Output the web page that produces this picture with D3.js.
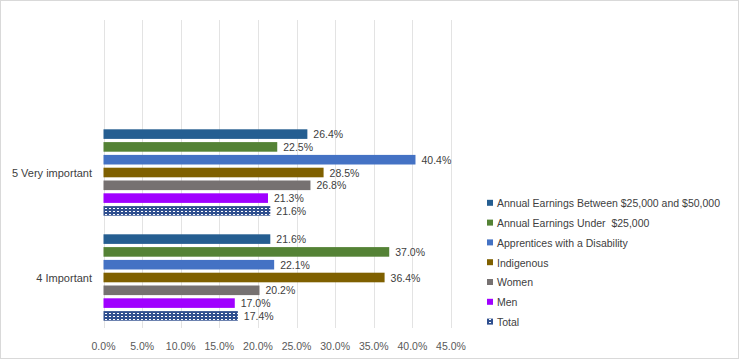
<!DOCTYPE html>
<html>
<head>
<meta charset="utf-8">
<script src="https://cdn.jsdelivr.net/npm/d3@7"></script>
<style>
  body { margin: 0; background: #fff; }
  svg text { font-family: "Liberation Sans", Arial, sans-serif; }
</style>
</head>
<body>
<div id="chart"></div>
<script>
// categories (top slot is an empty category in the source chart)
var categories = ["", "5 Very important", "4 Important"];
var seriesNames = [
    "Annual Earnings Between $25,000 and $50,000",
    "Annual Earnings Under  $25,000",
    "Apprentices with a Disability",
    "Indigenous",
    "Women",
    "Men",
    "Total"
];
// values per category, same order as seriesNames
var veryImportant = [26.4, 22.5, 40.4, 28.5, 26.8, 21.3, 21.6];
var important = [21.6, 37.0, 22.1, 36.4, 20.2, 17.0, 17.4];
var tickValues = [0, 5, 10, 15, 20, 25, 30, 35, 40, 45];

var colors = ["#255e91", "#548235", "#4472c4", "#7f6000", "#767171", "#a000ff", "url(#totalPattern)"];

var W = 739, H = 364;
var svg = d3.select("#chart").append("svg")
    .attr("width", W)
    .attr("height", H);

// pattern for Total
var defs = svg.append("defs");
var pat = defs.append("pattern")
    .attr("id", "totalPattern")
    .attr("patternUnits", "userSpaceOnUse")
    .attr("width", 4)
    .attr("height", 3);
pat.append("rect").attr("width", 4).attr("height", 3).attr("fill", "#2f4f8f");
pat.append("rect").attr("x", 1).attr("y", 1).attr("width", 2).attr("height", 1).attr("fill", "#ffffff");

// outer border
svg.append("rect")
    .attr("x", 0.5).attr("y", 0.5)
    .attr("width", W - 1).attr("height", 358)
    .attr("fill", "#fff")
    .attr("stroke", "#d9d9d9");

var x = d3.scaleLinear().domain([0, 45]).range([103.5, 451]);
var y = d3.scaleBand().domain(categories).range([15, 330]);
var plotTop = 20, plotBottom = 328;

// gridlines
svg.append("g")
    .selectAll("line")
    .data(tickValues)
    .enter()
    .append("line")
    .attr("x1", function(d) { return Math.round(x(d)) + 0.5; })
    .attr("x2", function(d) { return Math.round(x(d)) + 0.5; })
    .attr("y1", plotTop)
    .attr("y2", plotBottom)
    .attr("stroke", "#e3e3e3")
    .attr("stroke-width", 1);

// x tick labels
svg.append("g")
    .selectAll("text")
    .data(tickValues)
    .enter()
    .append("text")
    .attr("x", function(d) { return x(d); })
    .attr("y", 349.5)
    .attr("text-anchor", "middle")
    .attr("font-size", "10.5px")
    .attr("fill", "#595959")
    .text(function(d) { return d3.format(".1f")(d) + "%"; });

// category labels
svg.append("g")
    .selectAll("text")
    .data(categories)
    .enter()
    .append("text")
    .attr("x", 92)
    .attr("y", function(d) { return y(d) + y.bandwidth() / 2 + 4; })
    .attr("text-anchor", "end")
    .attr("font-size", "11px")
    .attr("fill", "#404040")
    .text(function(d) { return d; });

var data = [
    {cat: "5 Very important", values: veryImportant},
    {cat: "4 Important", values: important}
];

var inner = d3.scaleBand().domain(d3.range(seriesNames.length)).paddingInner(0.25);

data.forEach(function(group) {
    var c = y(group.cat) + y.bandwidth() / 2;
    inner.range([c - 43.2, c + 43.2]);
    var g = svg.append("g");
    g.selectAll("rect")
        .data(group.values)
        .enter()
        .append("rect")
        .attr("x", x(0))
        .attr("y", function(d, i) { return inner(i); })
        .attr("width", function(d) { return x(d) - x(0); })
        .attr("height", inner.bandwidth())
        .attr("fill", function(d, i) { return colors[i]; });
    g.selectAll("text")
        .data(group.values)
        .enter()
        .append("text")
        .attr("x", function(d) { return x(d) + 6; })
        .attr("y", function(d, i) { return inner(i) + inner.bandwidth() / 2 + 4; })
        .attr("font-size", "10.5px")
        .attr("fill", "#404040")
        .text(function(d) { return d3.format(".1f")(d) + "%"; });
});

// legend
var legend = svg.append("g");
seriesNames.forEach(function(name, i) {
    var ly = 203.3 + i * 19.8;
    legend.append("rect")
        .attr("x", 487)
        .attr("y", ly - 3.5)
        .attr("width", 6)
        .attr("height", 6)
        .attr("fill", colors[i]);
    legend.append("text")
        .attr("x", 497)
        .attr("y", ly + 3.8)
        .attr("font-size", "10.5px")
        .attr("fill", "#404040")
        .style("white-space", "pre")
        .text(name);
});
</script>
</body>
</html>
